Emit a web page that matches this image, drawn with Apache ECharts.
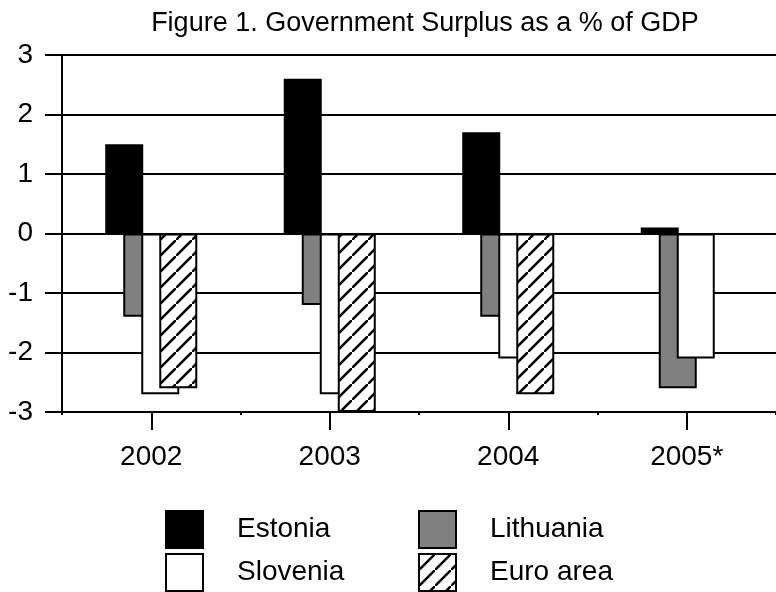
<!DOCTYPE html>
<html>
<head>
<meta charset="utf-8">
<script src="https://cdn.jsdelivr.net/npm/echarts@6/dist/echarts.min.js"></script>
<style>
  html, body { margin: 0; padding: 0; background: #fff; }
  #chart { width: 776px; height: 592px; }
</style>
</head>
<body>
<div id="chart"></div>
<script>
const categories = ['2002', '2003', '2004', '2005*']
const estonia = [1.5, 2.6, 1.7, 0.1]
const lithuania = [-1.4, -1.2, -1.4, -2.6]
const slovenia = [-2.7, -2.7, -2.1, -2.1]
const euroArea = [-2.6, -3.0, -2.7, null]
const yTicks = [-3, -2, -1, 0, 1, 2, 3]

const FONT = 'Liberation Sans, Arial, sans-serif'

// diagonal hatch for the euro area bars
function makeHatch() {
  const c = document.createElement('canvas')
  c.width = 16
  c.height = 16
  const ctx = c.getContext('2d')
  ctx.fillStyle = '#fff'
  ctx.fillRect(0, 0, 16, 16)
  ctx.strokeStyle = '#000'
  ctx.lineWidth = 2.5
  ctx.beginPath()
  ctx.moveTo(-2, 18)
  ctx.lineTo(18, -2)
  ctx.stroke()
  return c
}

const barCommon = {
  type: 'bar',
  barWidth: 38,
  barGap: '-52.6%',
  xAxisIndex: 0
}

// one legend per entry so the 2x2 grid lines up
function legendItem(name, left, top) {
  return {
    data: [name],
    left: left,
    top: top,
    padding: 0,
    icon: 'rect',
    itemWidth: 37,
    itemHeight: 37,
    textStyle: { fontFamily: FONT, fontSize: 28, color: '#000', padding: [0, 0, 0, 29] }
  }
}

const myChart = echarts.init(document.getElementById('chart'))
const option = {
  animation: false,
  backgroundColor: '#fff',
  title: {
    text: 'Figure 1. Government Surplus as a % of GDP',
    left: 420,
    top: 5,
    textAlign: 'center',
    textStyle: { fontFamily: FONT, fontWeight: 'normal', fontSize: 27, color: '#000' }
  },
  legend: [
    legendItem('Estonia', 165, 510),
    legendItem('Lithuania', 418, 510),
    legendItem('Slovenia', 165, 553),
    legendItem('Euro area', 418, 553)
  ],
  grid: {
    left: 62,
    right: -6,
    top: 55,
    bottom: 180
  },
  xAxis: [
    {
      type: 'category',
      data: categories,
      axisLine: { show: true, onZero: false, lineStyle: { color: '#000', width: 2 } },
      axisTick: { show: true, alignWithLabel: true, length: 18, lineStyle: { color: '#000', width: 2 } },
      axisLabel: { margin: 31, fontFamily: FONT, fontSize: 28, color: '#000' }
    },
    {
      // small boundary ticks
      type: 'category',
      data: categories,
      position: 'bottom',
      axisLine: { show: false, onZero: false },
      axisTick: { show: true, length: 3, lineStyle: { color: '#000', width: 2 } },
      axisLabel: { show: false }
    }
  ],
  yAxis: {
    type: 'value',
    min: yTicks[0],
    max: yTicks[yTicks.length - 1],
    interval: 1,
    axisLine: { show: true, lineStyle: { color: '#000', width: 2 } },
    axisTick: { show: true, length: 17, lineStyle: { color: '#000', width: 2 } },
    axisLabel: { margin: 29, fontFamily: FONT, fontSize: 28, color: '#000' },
    splitLine: { lineStyle: { color: '#000', width: 2 } }
  },
  series: [
    Object.assign({}, barCommon, {
      name: 'Estonia',
      itemStyle: { color: '#000', borderColor: '#000', borderWidth: 2 },
      data: estonia
    }),
    Object.assign({}, barCommon, {
      name: 'Lithuania',
      itemStyle: { color: '#808080', borderColor: '#000', borderWidth: 2 },
      data: lithuania
    }),
    Object.assign({}, barCommon, {
      name: 'Slovenia',
      itemStyle: { color: '#fff', borderColor: '#000', borderWidth: 2 },
      data: slovenia
    }),
    Object.assign({}, barCommon, {
      name: 'Euro area',
      itemStyle: { color: { image: makeHatch(), repeat: 'repeat' }, borderColor: '#000', borderWidth: 2 },
      data: euroArea.map(v => v == null ? '-' : v)
    })
  ]
}
myChart.setOption(option)
</script>
</body>
</html>
